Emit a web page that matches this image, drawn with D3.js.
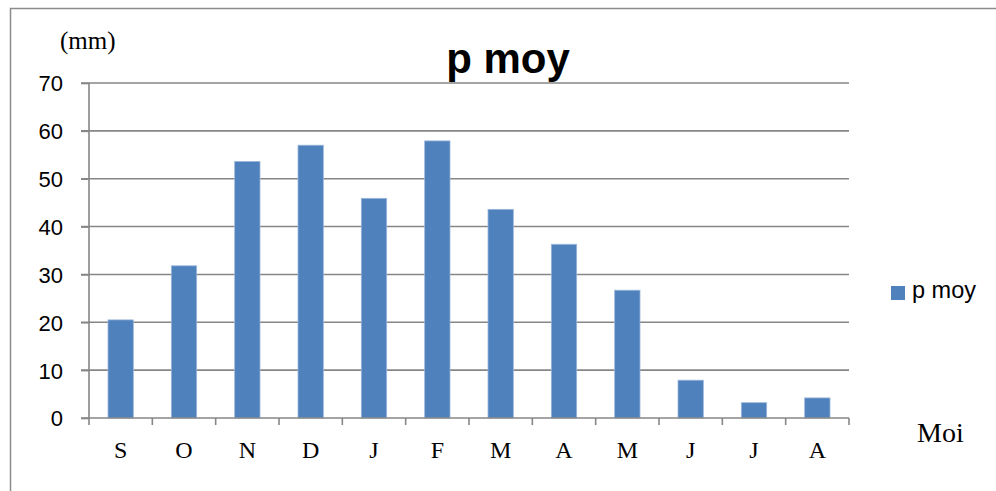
<!DOCTYPE html>
<html><head><meta charset="utf-8">
<script src="https://cdn.jsdelivr.net/npm/d3@7"></script>
<style>html,body{margin:0;padding:0;background:#fff;overflow:hidden}</style>
</head><body>
<script>
const months = ["S","O","N","D","J","F","M","A","M","J","J","A"];
const pmoy = [20.5, 31.8, 53.6, 57.0, 45.9, 57.9, 43.6, 36.3, 26.7, 7.9, 3.2, 4.2];
const yTicks = [0,10,20,30,40,50,60,70];
const seriesName = "p moy";
const titleText = "p moy";
const yUnit = "(mm)";
const xName = "Moi";

const W = 996, H = 491;
const svg = d3.select("body").append("svg").attr("width", W).attr("height", H);

// outer chart border
svg.append("rect").attr("x", 10.5).attr("y", 8.5).attr("width", 1100).attr("height", 600)
  .attr("fill", "none").attr("stroke", "#8c8c8c").attr("stroke-width", 1.5);

const pL = 89, pR = 849, pT = 83, pB = 418;
const idx = months.map((d, i) => i);
const x = d3.scaleBand().domain(idx).range([pL, pR]).paddingInner(0.6).paddingOuter(0.3);
const xb = d3.scaleBand().domain(idx).range([pL, pR]);
const y = d3.scaleLinear().domain([0, 70]).range([pB, pT]);

const gridColor = "#868686";
// gridlines
svg.append("g").selectAll("line").data(yTicks.filter(d => d > 0)).join("line")
  .attr("x1", pL - 8).attr("x2", pR).attr("y1", d => y(d)).attr("y2", d => y(d))
  .attr("stroke", gridColor).attr("stroke-width", 1.6);

// y axis
const yAxis = d3.axisLeft(y).tickValues(yTicks).tickSize(8).tickPadding(18);
const gy = svg.append("g").attr("transform", `translate(${pL},0)`).call(yAxis);
gy.select(".domain").attr("stroke", gridColor).attr("stroke-width", 1.6).attr("d", `M0,${pT}V${pB}`);
gy.selectAll(".tick line").attr("stroke", gridColor).attr("stroke-width", 1.6);
gy.selectAll(".tick text").attr("font-family", "Liberation Sans, Arial, sans-serif")
  .attr("font-size", 22).attr("fill", "#000").attr("dy", "0.36em");

// bars
svg.append("g").selectAll("rect").data(pmoy).join("rect")
  .attr("x", (d, i) => x(i)).attr("width", x.bandwidth())
  .attr("y", d => y(d)).attr("height", d => y(0) - y(d))
  .attr("fill", "#4F81BD").attr("stroke", "#9bb7dc").attr("stroke-width", 0.8);

// x axis
svg.append("line").attr("x1", pL - 8).attr("x2", pR).attr("y1", pB).attr("y2", pB)
  .attr("stroke", gridColor).attr("stroke-width", 1.6);
const bounds = idx.map(i => xb(i)).concat([pR]);
svg.append("g").selectAll("line").data(bounds).join("line")
  .attr("x1", d => d).attr("x2", d => d).attr("y1", pB).attr("y2", pB + 7)
  .attr("stroke", gridColor).attr("stroke-width", 1.6);
svg.append("g").selectAll("text").data(months).join("text")
  .attr("x", (d, i) => xb(i) + xb.bandwidth() / 2).attr("y", 458)
  .attr("text-anchor", "middle").attr("font-family", "Liberation Serif, Times New Roman, serif")
  .attr("font-size", 24).attr("fill", "#000").text(d => d);

// title
svg.append("text").attr("x", 508).attr("y", 73).attr("text-anchor", "middle")
  .attr("font-family", "Liberation Sans, Arial, sans-serif").attr("font-weight", "bold")
  .attr("font-size", 42).attr("fill", "#000").text(titleText);

// unit label
svg.append("text").attr("x", 60).attr("y", 49)
  .attr("font-family", "Liberation Serif, Times New Roman, serif")
  .attr("font-size", 25).attr("fill", "#000").text(yUnit);

// x name
svg.append("text").attr("x", 917).attr("y", 442)
  .attr("font-family", "Liberation Serif, Times New Roman, serif")
  .attr("font-size", 28).attr("fill", "#000").text(xName);

// legend
svg.append("rect").attr("x", 891).attr("y", 286).attr("width", 14).attr("height", 14)
  .attr("fill", "#4F81BD");
svg.append("text").attr("x", 912).attr("y", 298)
  .attr("font-family", "Liberation Sans, Arial, sans-serif")
  .attr("font-size", 23.5).attr("fill", "#000").text(seriesName);
</script>
</body></html>
